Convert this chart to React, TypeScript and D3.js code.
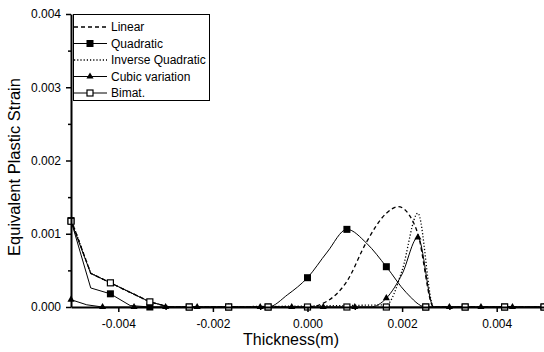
import React, { useEffect, useRef } from 'react';
import * as d3 from 'd3';

// thickness positions (m)
const fineGrid = [
  -0.005, -0.004583, -0.004167, -0.00375, -0.003333, -0.002917, -0.0025, -0.002083,
  -0.001667, -0.00125, -0.000833, -0.000417, 0, 0.000417, 0.000833, 0.00125, 0.001667,
  0.002083, 0.0025, 0.002917, 0.003333, 0.00375, 0.004167, 0.004583, 0.005,
];
const cubicGrid = [
  -0.005, -0.004667, -0.004333, -0.004, -0.003667, -0.003333, -0.003, -0.002667,
  -0.002333, -0.002, -0.001667, -0.001333, -0.001, -0.000667, -0.000333, 0, 0.000333,
  0.000667, 0.001, 0.001333, 0.001667, 0.002, 0.002333, 0.002667, 0.003, 0.003333,
  0.003667, 0.004, 0.004333, 0.004667, 0.005,
];
const linearGrid = [
  -0.005, -0.004583, -0.004167, -0.00375, -0.003333, -0.002917, 0, 0.000417, 0.000833,
  0.00125, 0.001667, 0.001917, 0.002167, 0.002333, 0.002667, 0.005,
];
const invQuadGrid = [
  -0.005, -0.004583, -0.004167, -0.00375, -0.003333, -0.002917, 0.001667, 0.002,
  0.002333, 0.002667, 0.005,
];

// equivalent plastic strain
const linearValues = [
  0.0012, 0.00046, 0.00033, 0.0002, 0.00007, 0, 0, 0.00008, 0.00035, 0.00089, 0.00128,
  0.00137, 0.00124, 0.001, 0, 0,
];
const quadraticValues = [
  0.00118, 0.00026, 0.00018, 0.00002, 0, 0, 0, 0, 0, 0, 0, 0.00017, 0.0004, 0.00075,
  0.00106, 0.00087, 0.00055, 0.0002, 0, 0, 0, 0, 0, 0, 0,
];
const invQuadValues = [0.0012, 0.00046, 0.00033, 0.0002, 0.00007, 0, 0.00003, 0.0005, 0.00128, 0, 0];
const cubicValues = [
  0.0001, 0.00003, 0, 0, 0, 0, 0, 0, 0, 0, 0, 0, 0, 0, 0, 0, 0, 0, 0, 0, 0.00012, 0.00045,
  0.00095, 0, 0, 0, 0, 0, 0, 0, 0,
];
const bimatValues = [
  0.00117, 0.00046, 0.00033, 0.0002, 0.00007, 0, 0, 0, 0, 0, 0, 0, 0, 0, 0, 0, 0, 0, 0, 0,
  0, 0, 0, 0, 0,
];

const xTicks = [-0.004, -0.002, 0, 0.002, 0.004];
const xMinorTicks = [-0.003, -0.001, 0.001, 0.003];
const yTicks = [0, 0.001, 0.002, 0.003, 0.004];
const yMinorTicks = [0.0005, 0.0015, 0.0025, 0.0035];

const seriesNames = ['Linear', 'Quadratic', 'Inverse Quadratic', 'Cubic variation', 'Bimat.'];

const width = 544;
const height = 352;
const font = '"Liberation Sans", Arial, sans-serif';
// left part of the profiles is drawn straight, the rest smoothed
const splitAt = -0.0029;

const App = () => {
  const svgRef = useRef<SVGSVGElement>(null);

  useEffect(() => {
    document.body.style.margin = '0';
    const svg = d3.select(svgRef.current);
    svg.selectAll('*').remove();

    const x = d3.scaleLinear().domain([-0.005, 0.005]).range([71, 544]);
    const y = d3.scaleLinear().domain([0, 0.004]).range([307, 14]);
    const fmt = (d: number) => d3.format('.3f')(d).replace('\u2212', '-');

    const series = [
      { name: seriesNames[0], xs: linearGrid, ys: linearValues, dash: '4,3', marker: null, every: 1 },
      { name: seriesNames[1], xs: fineGrid, ys: quadraticValues, dash: null, marker: 'fsquare', every: 2 },
      { name: seriesNames[2], xs: invQuadGrid, ys: invQuadValues, dash: '1.2,2', marker: null, every: 1 },
      { name: seriesNames[3], xs: cubicGrid, ys: cubicValues, dash: null, marker: 'triangle', every: 2 },
      { name: seriesNames[4], xs: fineGrid, ys: bimatValues, dash: null, marker: 'osquare', every: 2 },
    ];

    const straight = d3
      .line<[number, number]>()
      .x((d) => x(d[0]))
      .y((d) => y(d[1]));
    const smooth = d3
      .line<[number, number]>()
      .x((d) => x(d[0]))
      .y((d) => y(d[1]))
      .curve(d3.curveMonotoneX);

    const drawMarker = (g: any, type: string | null, cx: number, cy: number) => {
      if (type === 'fsquare') {
        g.append('rect').attr('x', cx - 3.5).attr('y', cy - 3.5).attr('width', 7).attr('height', 7).attr('fill', '#000');
      } else if (type === 'osquare') {
        g.append('rect').attr('x', cx - 3).attr('y', cy - 3).attr('width', 6).attr('height', 6)
          .attr('fill', '#fff').attr('stroke', '#000').attr('stroke-width', 1.2);
      } else if (type === 'triangle') {
        g.append('path').attr('d', d3.symbol(d3.symbolTriangle, 22)()).attr('transform', `translate(${cx},${cy})`).attr('fill', '#000');
      }
    };

    const plot = svg.append('g');
    series.forEach((s) => {
      const pts: [number, number][] = s.xs.map((v, i) => [v, s.ys[i]]);
      const cut = pts.findIndex((p) => p[0] > splitAt);
      const left = pts.slice(0, cut);
      const right = pts.slice(cut - 1);
      [
        { d: left, gen: straight },
        { d: right, gen: smooth },
      ].forEach((part) => {
        plot.append('path')
          .datum(part.d)
          .attr('d', part.gen)
          .attr('fill', 'none')
          .attr('stroke', '#000')
          .attr('stroke-width', s.dash ? 1.3 : 1)
          .attr('stroke-dasharray', s.dash);
      });
    });
    series.forEach((s) => {
      if (!s.marker) return;
      s.xs.forEach((v, i) => {
        if (i % s.every !== 0) return;
        drawMarker(plot, s.marker, x(v), y(s.ys[i]));
      });
    });

    // Axes
    const xAxis = svg.append('g').attr('transform', 'translate(0,307)')
      .call(d3.axisBottom(x).tickValues(xTicks).tickFormat(fmt as any).tickSize(5).tickSizeOuter(0));
    svg.append('g').attr('transform', 'translate(0,307)')
      .call(d3.axisBottom(x).tickValues(xMinorTicks).tickFormat(() => '').tickSize(3).tickSizeOuter(0))
      .select('.domain').remove();
    const yAxis = svg.append('g').attr('transform', 'translate(71,0)')
      .call(d3.axisLeft(y).tickValues(yTicks).tickFormat(fmt as any).tickSize(5).tickSizeOuter(0));
    svg.append('g').attr('transform', 'translate(71,0)')
      .call(d3.axisLeft(y).tickValues(yMinorTicks).tickFormat(() => '').tickSize(3).tickSizeOuter(0))
      .select('.domain').remove();

    svg.selectAll('.domain').attr('stroke', '#000').attr('stroke-width', 2);
    svg.selectAll('.tick line').attr('stroke', '#000').attr('stroke-width', 1.5);
    xAxis.selectAll('text').attr('font-family', font).attr('font-size', 12).attr('fill', '#000').attr('dy', '1.05em');
    yAxis.selectAll('text').attr('font-family', font).attr('font-size', 12).attr('fill', '#000').attr('x', -10);

    svg.append('text')
      .attr('x', 291).attr('y', 345)
      .attr('text-anchor', 'middle')
      .attr('font-family', font).attr('font-size', 16)
      .text('Thickness(m)');
    svg.append('text')
      .attr('transform', 'translate(20,167) rotate(-90)')
      .attr('text-anchor', 'middle')
      .attr('font-family', font).attr('font-size', 16.5)
      .text('Equivalent Plastic Strain');

    // Legend
    const legend = svg.append('g');
    legend.append('rect').attr('x', 73.5).attr('y', 14.5).attr('width', 136).attr('height', 86)
      .attr('fill', '#fff').attr('stroke', '#000').attr('stroke-width', 1);
    series.forEach((s, i) => {
      const ly = 27 + i * 16.5;
      legend.append('line').attr('x1', 74).attr('x2', 107).attr('y1', ly).attr('y2', ly)
        .attr('stroke', '#000').attr('stroke-width', s.dash ? 1.3 : 1).attr('stroke-dasharray', s.dash);
      drawMarker(legend, s.marker, 90, ly);
      legend.append('text').attr('x', 111).attr('y', ly).attr('dy', '0.35em')
        .attr('font-family', font).attr('font-size', 12).text(s.name);
    });
  }, []);

  return (
    <svg
      ref={svgRef}
      width={width}
      height={height}
      style={{ position: 'absolute', left: 0, top: 0, background: '#fff' }}
    />
  );
};

export default App;
